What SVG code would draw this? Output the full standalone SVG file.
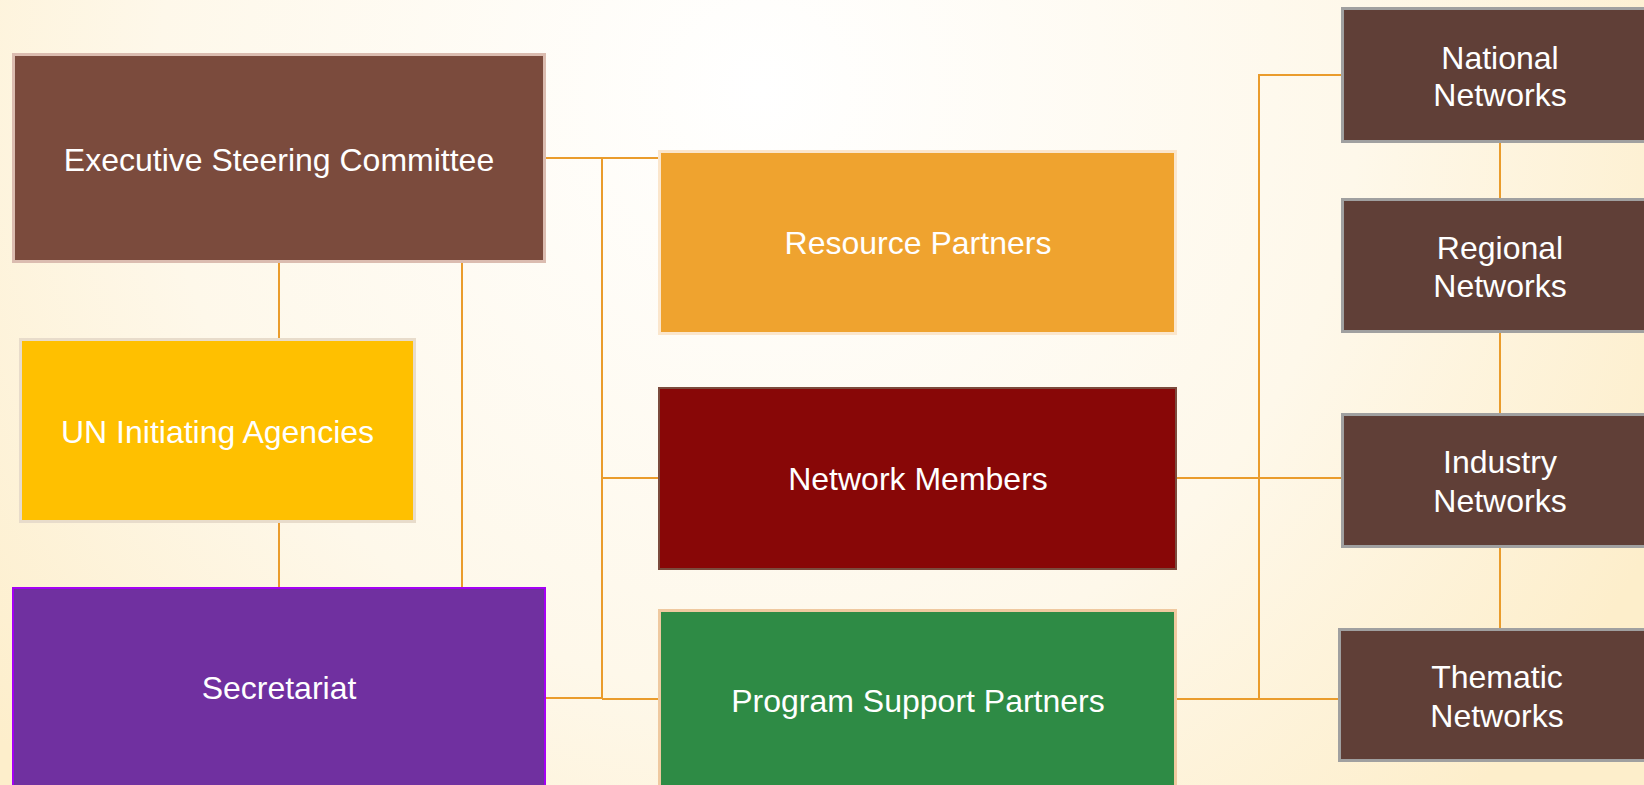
<svg xmlns="http://www.w3.org/2000/svg" width="1644" height="785" viewBox="0 0 1644 785">
<defs>
<radialGradient id="bg" cx="760" cy="90" r="1000" gradientUnits="userSpaceOnUse">
<stop offset="0" stop-color="#ffffff"/>
<stop offset="0.6" stop-color="#fef8ea"/>
<stop offset="1" stop-color="#fdeecb"/>
</radialGradient>
<style>
.lbl{font-family:"Liberation Sans",Arial,sans-serif;font-size:32px;fill:#ffffff;text-anchor:middle}
.net{fill:#603F37;stroke:#a0a0a0;stroke-width:3}
.con{stroke:#EA9C2C;stroke-width:2;fill:none}
</style>
</defs>
<rect x="0" y="0" width="1644" height="785" fill="url(#bg)"/>
<g id="connectors">
<line class="con" x1="279" y1="262" x2="279" y2="339"/>
<line class="con" x1="279" y1="522" x2="279" y2="588"/>
<line class="con" x1="462" y1="262" x2="462" y2="588"/>
<line class="con" x1="545" y1="158" x2="659" y2="158"/>
<line class="con" x1="602" y1="158" x2="602" y2="699"/>
<line class="con" x1="602" y1="478" x2="659" y2="478"/>
<line class="con" x1="545" y1="698" x2="602" y2="698"/>
<line class="con" x1="602" y1="699" x2="659" y2="699"/>
<line class="con" x1="1176" y1="478" x2="1342" y2="478"/>
<line class="con" x1="1176" y1="699" x2="1339" y2="699"/>
<polyline class="con" points="1342,75 1259,75 1259,699"/>
<line class="con" x1="1500" y1="142" x2="1500" y2="199"/>
<line class="con" x1="1500" y1="332" x2="1500" y2="414"/>
<line class="con" x1="1500" y1="547" x2="1500" y2="629"/>
</g>
<g id="esc">
<rect x="13.5" y="54.5" width="531" height="207" fill="#7B4B3D" stroke="#dbbcb0" stroke-width="3"/>
<text class="lbl" x="279" y="171">Executive Steering Committee</text>
</g>
<g id="un">
<rect x="20.5" y="339.5" width="394" height="182" fill="#FFC000" stroke="#e8dccb" stroke-width="3"/>
<text class="lbl" x="217.5" y="443">UN Initiating Agencies</text>
</g>
<g id="secretariat">
<rect x="13" y="588" width="532" height="220" fill="#7030A0" stroke="#a400f4" stroke-width="2"/>
<text class="lbl" x="279" y="699">Secretariat</text>
</g>
<g id="resource">
<rect x="659.5" y="151.5" width="516" height="182" fill="#EFA32F" stroke="#fbe6cc" stroke-width="3"/>
<text class="lbl" x="918" y="254">Resource Partners</text>
</g>
<g id="members">
<rect x="659" y="388" width="517" height="181" fill="#880707" stroke="#7b4b3d" stroke-width="2"/>
<text class="lbl" x="918" y="490">Network Members</text>
</g>
<g id="program">
<rect x="659.5" y="610.5" width="516" height="200" fill="#2E8B45" stroke="#efc9a0" stroke-width="3"/>
<text class="lbl" x="918" y="712">Program Support Partners</text>
</g>
<g id="national">
<rect class="net" x="1342.5" y="8.5" width="320" height="133"/>
<text class="lbl" x="1500" y="69">National</text>
<text class="lbl" x="1500" y="106">Networks</text>
</g>
<g id="regional">
<rect class="net" x="1342.5" y="199.5" width="320" height="132"/>
<text class="lbl" x="1500" y="259">Regional</text>
<text class="lbl" x="1500" y="296.5">Networks</text>
</g>
<g id="industry">
<rect class="net" x="1342.5" y="414.5" width="320" height="132"/>
<text class="lbl" x="1500" y="473">Industry</text>
<text class="lbl" x="1500" y="511.5">Networks</text>
</g>
<g id="thematic">
<rect class="net" x="1339.5" y="629.5" width="320" height="131"/>
<text class="lbl" x="1497" y="687.5">Thematic</text>
<text class="lbl" x="1497" y="726.5">Networks</text>
</g>
</svg>
